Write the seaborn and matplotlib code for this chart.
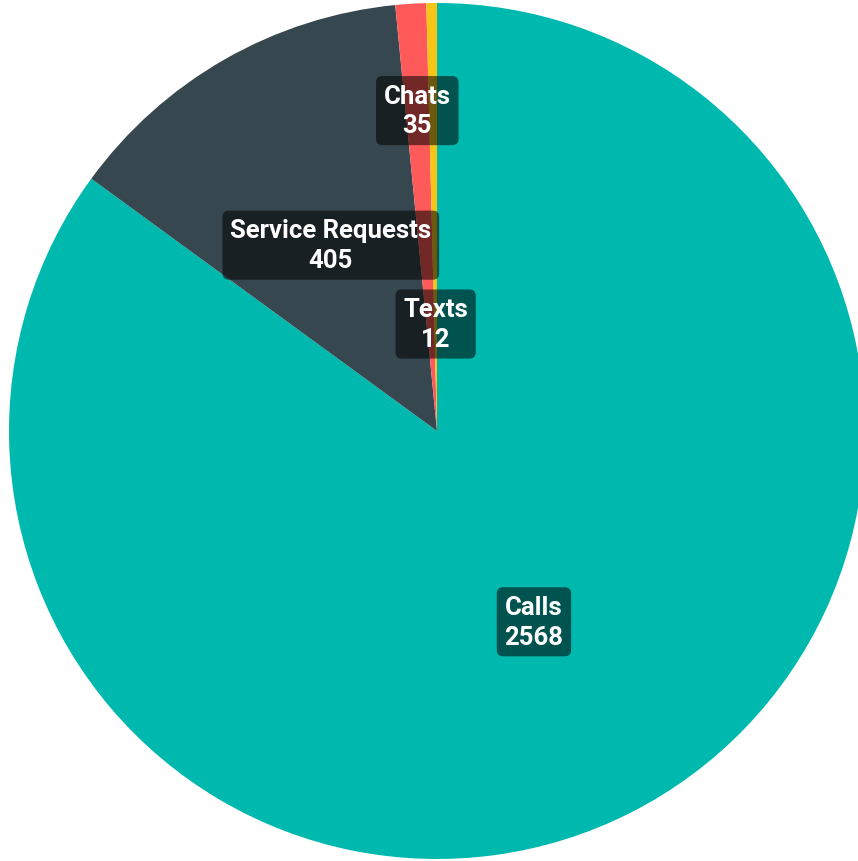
import numpy as np
import matplotlib
matplotlib.use("Agg")
import matplotlib.pyplot as plt
import seaborn as sns

categories = ["Calls", "Service Requests", "Chats", "Texts"]
values = [2568, 405, 35, 12]
colors_hex = ["#00B9AE", "#37474F", "#FF5A5A", "#F5C518"]

sns.set_style("white")
plt.rcParams['font.family'] = ['Roboto', 'DejaVu Sans']

palette = sns.color_palette(colors_hex)

fig = plt.figure(figsize=(8.58, 8.62), dpi=100)
ax = fig.add_axes([0, 0, 1, 1])
wedges, _ = ax.pie(values, colors=palette, startangle=90, counterclock=False,
                   radius=1.0, wedgeprops=dict(linewidth=0))

label_radii = [0.5, 0.5, 0.75, 0.25]
for w, cat, val, lr in zip(wedges, categories, values, label_radii):
    mid = np.deg2rad((w.theta1 + w.theta2) / 2)
    x, y = lr * np.cos(mid), lr * np.sin(mid)
    ax.text(x, y, f"{cat}\n{val}", ha="center", va="center", color="white",
            fontsize=18.5, fontweight="bold", linespacing=1.3,
            bbox=dict(boxstyle="round,pad=0.3,rounding_size=0.25",
                      facecolor="black", alpha=0.55, edgecolor="none"))

ax.set_xlim(-437 / 428, (858 - 437) / 428)
ax.set_ylim(-(862 - 432) / 428, 432 / 428)
ax.set_aspect("auto")
ax.axis("off")
fig.savefig("out.png", dpi=100, facecolor="white")
